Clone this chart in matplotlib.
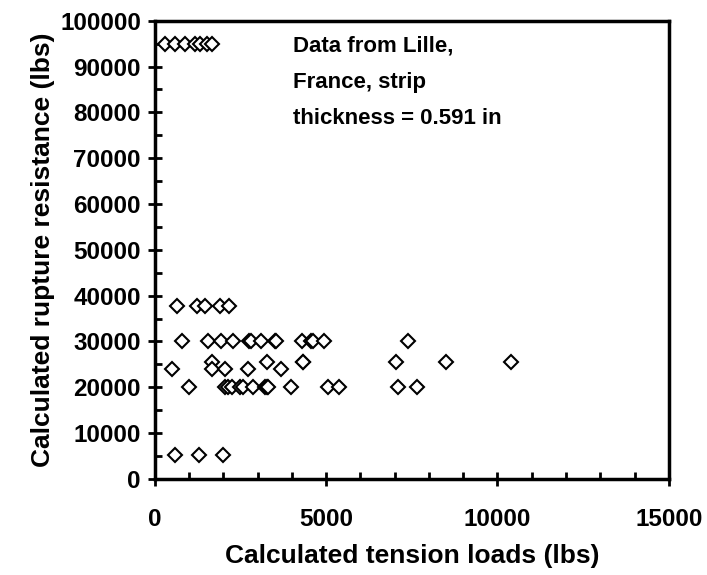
import matplotlib

matplotlib.use("Agg")
import matplotlib.pyplot as plt
from matplotlib.ticker import MultipleLocator

plt.rcParams["font.family"] = ["Liberation Sans", "DejaVu Sans"]
plt.rcParams["font.weight"] = "bold"

# calculated tension load (lbs) vs calculated rupture resistance (lbs)
tension_95k = [290, 580, 880, 1170, 1310, 1520, 1660]
tension_38k = [640, 1230, 1460, 1900, 2160]
tension_30k = [800, 1560, 1920, 2270, 2740, 2820, 3090, 3500, 3550,
               4300, 4550, 4620, 4940, 7400]
tension_25k = [1680, 3260, 4310, 4330, 7050, 8510, 10390]
tension_24k = [500, 1680, 2040, 2730, 3670]
tension_20k = [990, 2040, 2140, 2240, 2480, 2580, 2870, 3210, 3260, 3310,
               3960, 5060, 5370, 7100, 7640]
tension_5k = [580, 1280, 1990]

rupture_levels = [95000, 37800, 30200, 25500, 24000, 20100, 5200]
tension_rows = [tension_95k, tension_38k, tension_30k, tension_25k,
                tension_24k, tension_20k, tension_5k]

x = [t for row in tension_rows for t in row]
y = [lvl for lvl, row in zip(rupture_levels, tension_rows) for _ in row]

fig = plt.figure(figsize=(7.07, 5.75), dpi=100)
ax = fig.add_axes([0.219, 0.167, 0.727, 0.797])

ax.plot(x, y, linestyle="none", marker="D", markersize=7,
        markerfacecolor="white", markeredgecolor="black", markeredgewidth=1.5)

ax.set_xlim(0, 15000)
ax.set_ylim(0, 100000)
ax.xaxis.set_major_locator(MultipleLocator(5000))
ax.xaxis.set_minor_locator(MultipleLocator(1000))
ax.yaxis.set_major_locator(MultipleLocator(10000))
ax.yaxis.set_minor_locator(MultipleLocator(5000))
ax.tick_params(which="major", direction="inout", length=10, width=2, labelsize=17.5, pad=5)
ax.tick_params(which="minor", direction="in", length=5, width=2)
ax.tick_params(axis="x", pad=16)
for spine in ax.spines.values():
    spine.set_linewidth(2.5)

ax.set_xlabel("Calculated tension loads (lbs)", fontsize=19, fontweight="bold", labelpad=9)
ax.set_ylabel("Calculated rupture resistance (lbs)", fontsize=19, fontweight="bold", labelpad=4)

ax.text(0.268, 0.968, "Data from Lille,\nFrance, strip\nthickness = 0.591 in",
        transform=ax.transAxes, ha="left", va="top", fontsize=16,
        fontweight="bold", linespacing=1.95)

fig.savefig("out.png", dpi=100)
plt.close(fig)
